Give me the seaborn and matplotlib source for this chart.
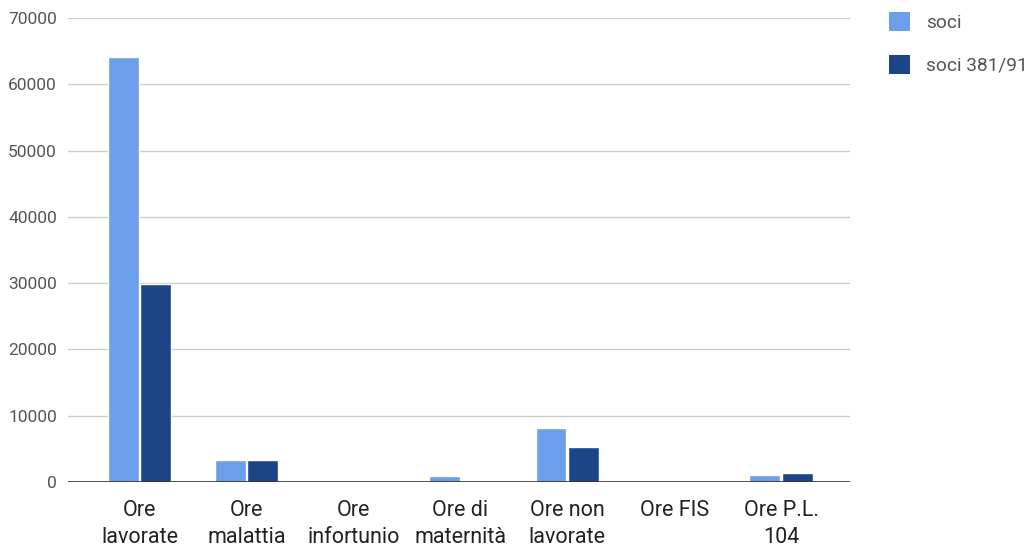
import pandas as pd
import matplotlib
matplotlib.use('Agg')
import matplotlib.pyplot as plt
from matplotlib.patches import Patch
import seaborn as sns

# Dati
categorie = ['Ore\nlavorate', 'Ore\nmalattia', 'Ore\ninfortunio', 'Ore di\nmaternità',
             'Ore non\nlavorate', 'Ore FIS', 'Ore P.L.\n104']
soci = [64100, 3300, 0, 850, 8200, 0, 1100]
soci_381 = [29850, 3300, 0, 0, 5200, 0, 1400]
serie = ['soci', 'soci 381/91']
colori = ['#6d9eeb', '#1c4587']

df = pd.DataFrame({
    'categoria': categorie * 2,
    'valore': soci + soci_381,
    'serie': [serie[0]] * len(categorie) + [serie[1]] * len(categorie),
})

sns.set_style('white')
plt.rcParams['font.family'] = ['Roboto', 'DejaVu Sans']

fig = plt.figure(figsize=(10.31, 5.47), dpi=100)
ax = fig.add_axes([0.066, 0.119, 0.758, 0.848])

sns.barplot(data=df, x='categoria', y='valore', hue='serie', palette=colori,
            width=0.61, gap=0.05, ax=ax, legend=False, saturation=1)

ax.set_xlim(-0.67, 6.64)
ax.set_ylim(0, 70000)
ax.set_yticks(range(0, 70001, 10000))
ax.yaxis.grid(True, color='#cccccc', linewidth=1)
ax.set_axisbelow(True)
ax.axhline(0, color='#333333', linewidth=1.2)
for s in ax.spines.values():
    s.set_visible(False)
ax.set_xlabel('')
ax.set_ylabel('')
ax.tick_params(axis='y', labelsize=12.5, labelcolor='#555555', length=0, pad=8)
ax.tick_params(axis='x', labelsize=15.5, labelcolor='#222222', length=0, pad=13)
for t in ax.get_xticklabels():
    t.set_linespacing(1.38)

# Legenda
handles = [Patch(facecolor=c, edgecolor='none') for c in colori]
fig.legend(handles, serie, loc='upper left', bbox_to_anchor=(0.846, 1.01),
           frameon=False, handlelength=1.05, handleheight=1.15, labelspacing=1.2,
           fontsize=13.8, labelcolor='#555555', handletextpad=0.85)

fig.savefig('out.png', dpi=100)
